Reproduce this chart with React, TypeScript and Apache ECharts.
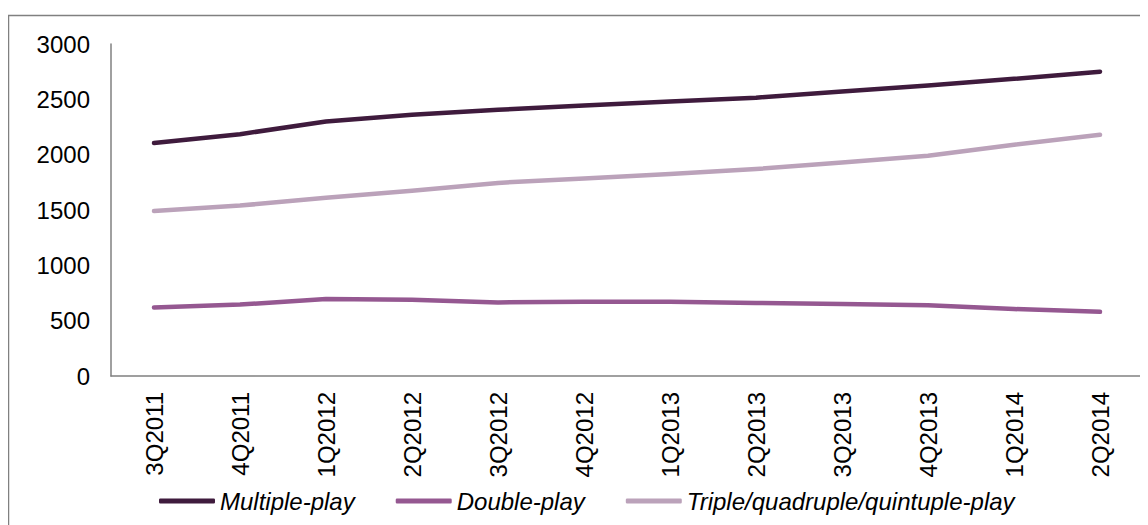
import React, { useEffect, useRef } from "react";
import * as echarts from "echarts";

const categories = ["3Q2011", "4Q2011", "1Q2012", "2Q2012", "3Q2012", "4Q2012", "1Q2013", "2Q2013", "3Q2013", "4Q2013", "1Q2014", "2Q2014"];
const multiplePlay = [2105, 2185, 2300, 2360, 2405, 2445, 2480, 2515, 2570, 2625, 2685, 2750];
const doublePlay = [620, 645, 695, 690, 665, 670, 672, 660, 650, 640, 605, 580];
const triplePlay = [1490, 1540, 1610, 1675, 1745, 1785, 1825, 1870, 1930, 1990, 2090, 2180];
const seriesNames = ["Multiple-play", "Double-play", "Triple/quadruple/quintuple-play"];
const colors = ["#3f1b3d", "#955891", "#bba2ba"];

const FONT = "'Liberation Sans', Arial, sans-serif";

export default function App() {
  const ref = useRef<HTMLDivElement>(null);
  useEffect(() => {
    if (!ref.current) return;
    const chart = echarts.init(ref.current, undefined, { renderer: "svg" });
    const seriesData = [multiplePlay, doublePlay, triplePlay];
    chart.setOption({
      animation: false,
      backgroundColor: "#ffffff",
      graphic: [
        {
          type: "rect",
          shape: { x: 0.5, y: 7.5, width: 1138, height: 530 },
          style: { fill: "none", stroke: "#808080", lineWidth: 1.5 },
          silent: true,
        },
      ],
      grid: { left: 103, top: 36, width: 1032, height: 332 },
      legend: {
        left: 146,
        top: 476,
        itemWidth: 56,
        itemHeight: 5,
        itemGap: 41,
        icon: "roundRect",
        data: seriesNames,
        textStyle: { fontFamily: FONT, fontSize: 24, fontStyle: "italic", color: "#000" },
      },
      xAxis: {
        type: "category",
        data: categories,
        boundaryGap: true,
        axisLine: { show: true, lineStyle: { color: "#808080", width: 1.5 } },
        axisTick: { show: false },
        axisLabel: { rotate: 90, margin: 16, fontFamily: FONT, fontSize: 24, color: "#000", interval: 0 },
        splitLine: { show: false },
      },
      yAxis: {
        type: "value",
        min: 0,
        max: 3000,
        interval: 500,
        axisLine: { show: true, lineStyle: { color: "#808080", width: 1.5 } },
        axisTick: { show: false },
        axisLabel: { margin: 21, fontFamily: FONT, fontSize: 24, color: "#000", formatter: (v: number) => String(v) },
        splitLine: { show: false },
      },
      series: seriesNames.map((name, i) => ({
        name,
        type: "line",
        data: seriesData[i],
        showSymbol: false,
        symbol: "none",
        smooth: false,
        itemStyle: { color: colors[i] },
        lineStyle: { color: colors[i], width: 4.5, cap: "round", join: "round" },
      })),
    });
    return () => chart.dispose();
  }, []);
  return <div ref={ref} style={{ width: 1140, height: 517 }} />;
}
